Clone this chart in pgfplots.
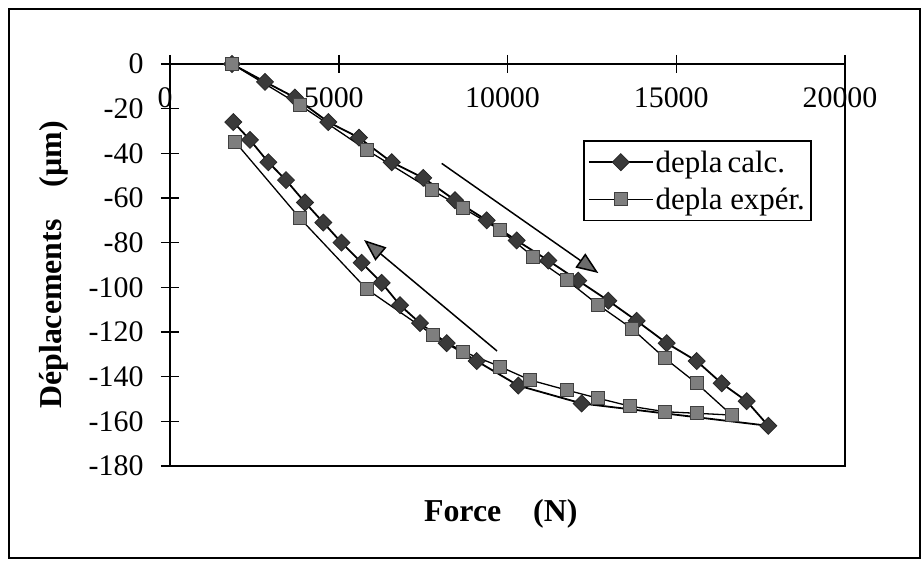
\documentclass[border=0pt]{standalone}
\usepackage{pgfplots}
\pgfplotsset{compat=1.18}
\usepackage{fontspec}
\setmainfont{Liberation Serif}
\usetikzlibrary{arrows.meta}
\definecolor{calcfill}{HTML}{3A3A3A}
\definecolor{expfill}{HTML}{7E7E7E}
\begin{document}
\begin{tikzpicture}[x=1bp,y=1bp]
\useasboundingbox (-170,-102) rectangle (753,466);
\draw[line width=1.5bp] (-161,-92) rectangle (750,457);
\begin{axis}[
  at={(0,0)}, anchor=south west,
  scale only axis, width=675bp, height=402bp,
  xmin=0, xmax=20000, ymin=-180, ymax=0,
  xtick={0,5000,...,20000}, ytick={-180,-160,...,0},
  xtick pos=upper, ytick pos=lower,
  xticklabel pos=upper,
  tick align=center, major tick length=18bp,
  every tick/.style={black, line width=1.5bp},
  axis line style={line width=1.6bp},
  /pgf/number format/assume math mode=true,
  /pgf/number format/1000 sep={},
  scaled ticks=false,
  ticklabel style={font=\fontsize{30}{34}\selectfont},
  xticklabel style={anchor=north, yshift=-29bp, xshift=-5bp},
  yticklabel style={xshift=-14bp},
  xlabel={\textbf{Force\quad(N)}},
  ylabel={\textbf{Déplacements\quad (µm)}},
  label style={font=\fontsize{32}{36}\selectfont},
  xlabel style={at={(axis description cs:0.49,0)}, anchor=north, yshift=-30bp},
  ylabel style={at={(axis description cs:0,0.5)}, anchor=south, yshift=98bp},
  legend style={at={(0.612,0.811)}, anchor=north west, draw=black, line width=1.6bp,
    font=\fontsize{31}{34}\selectfont, inner xsep=4bp, inner ysep=8bp, row sep=10bp},
  legend cell align=left,
  legend image code/.code={\draw[mark repeat=2,mark phase=2,#1] plot coordinates {(0bp,0bp) (32bp,0bp) (64bp,0bp)};},
  clip=false,
]
\addplot[black, line width=1.8bp, mark=square*, mark size=6bp,
  mark options={fill=calcfill, draw=black!85, line width=0.8bp, solid, rotate=45}]
coordinates {
(1837,0) (2815,-8) (3700,-15) (4690,-26) (5600,-33) (6569,-44) (7505,-51)
(8444,-61) (9383,-70) (10272,-79) (11209,-88) (12098,-97) (12987,-106)
(13827,-115) (14716,-125) (15605,-133) (16346,-143) (17087,-151) (17728,-162)
(12198,-152) (10321,-144) (9087,-133) (8198,-125) (7407,-116) (6815,-108)
(6272,-98) (5679,-89) (5081,-80) (4543,-71) (4000,-62) (3437,-52) (2914,-44)
(2370,-34) (1876,-26)
};
\addlegendentry{depla\,calc.}
\addplot[black, line width=1.3bp, mark=square*, mark size=6.5bp,
  mark options={fill=expfill, draw=black!75, line width=0.8bp, solid}]
coordinates {
(1837,0) (3852,-18.4) (5828,-38.5) (7754,-56.4) (8690,-64.6) (9778,-74.3)
(10765,-86.3) (11753,-96.7) (12691,-107.9) (13680,-118.4) (14667,-131.8)
(15605,-143) (16643,-157.2) (15605,-156.4) (14667,-155.7) (13630,-153.2)
(12691,-149.7) (11753,-146) (10667,-141.5) (9778,-135.5) (8690,-128.8)
(7802,-121.4) (5828,-100.8) (3852,-69.1) (1926,-34.8)
};
\addlegendentry{depla expér.}
\draw[line width=1.5bp, -{Triangle[length=22bp, width=17bp, fill=gray!85!black]}]
  (axis cs:8050,-44.5) -- (axis cs:12691,-93.6);
\draw[line width=1.5bp, -{Triangle[length=22bp, width=17bp, fill=gray!85!black]}]
  (axis cs:9689,-128.5) -- (axis cs:5750,-78.8);
\end{axis}
\end{tikzpicture}
\end{document}
